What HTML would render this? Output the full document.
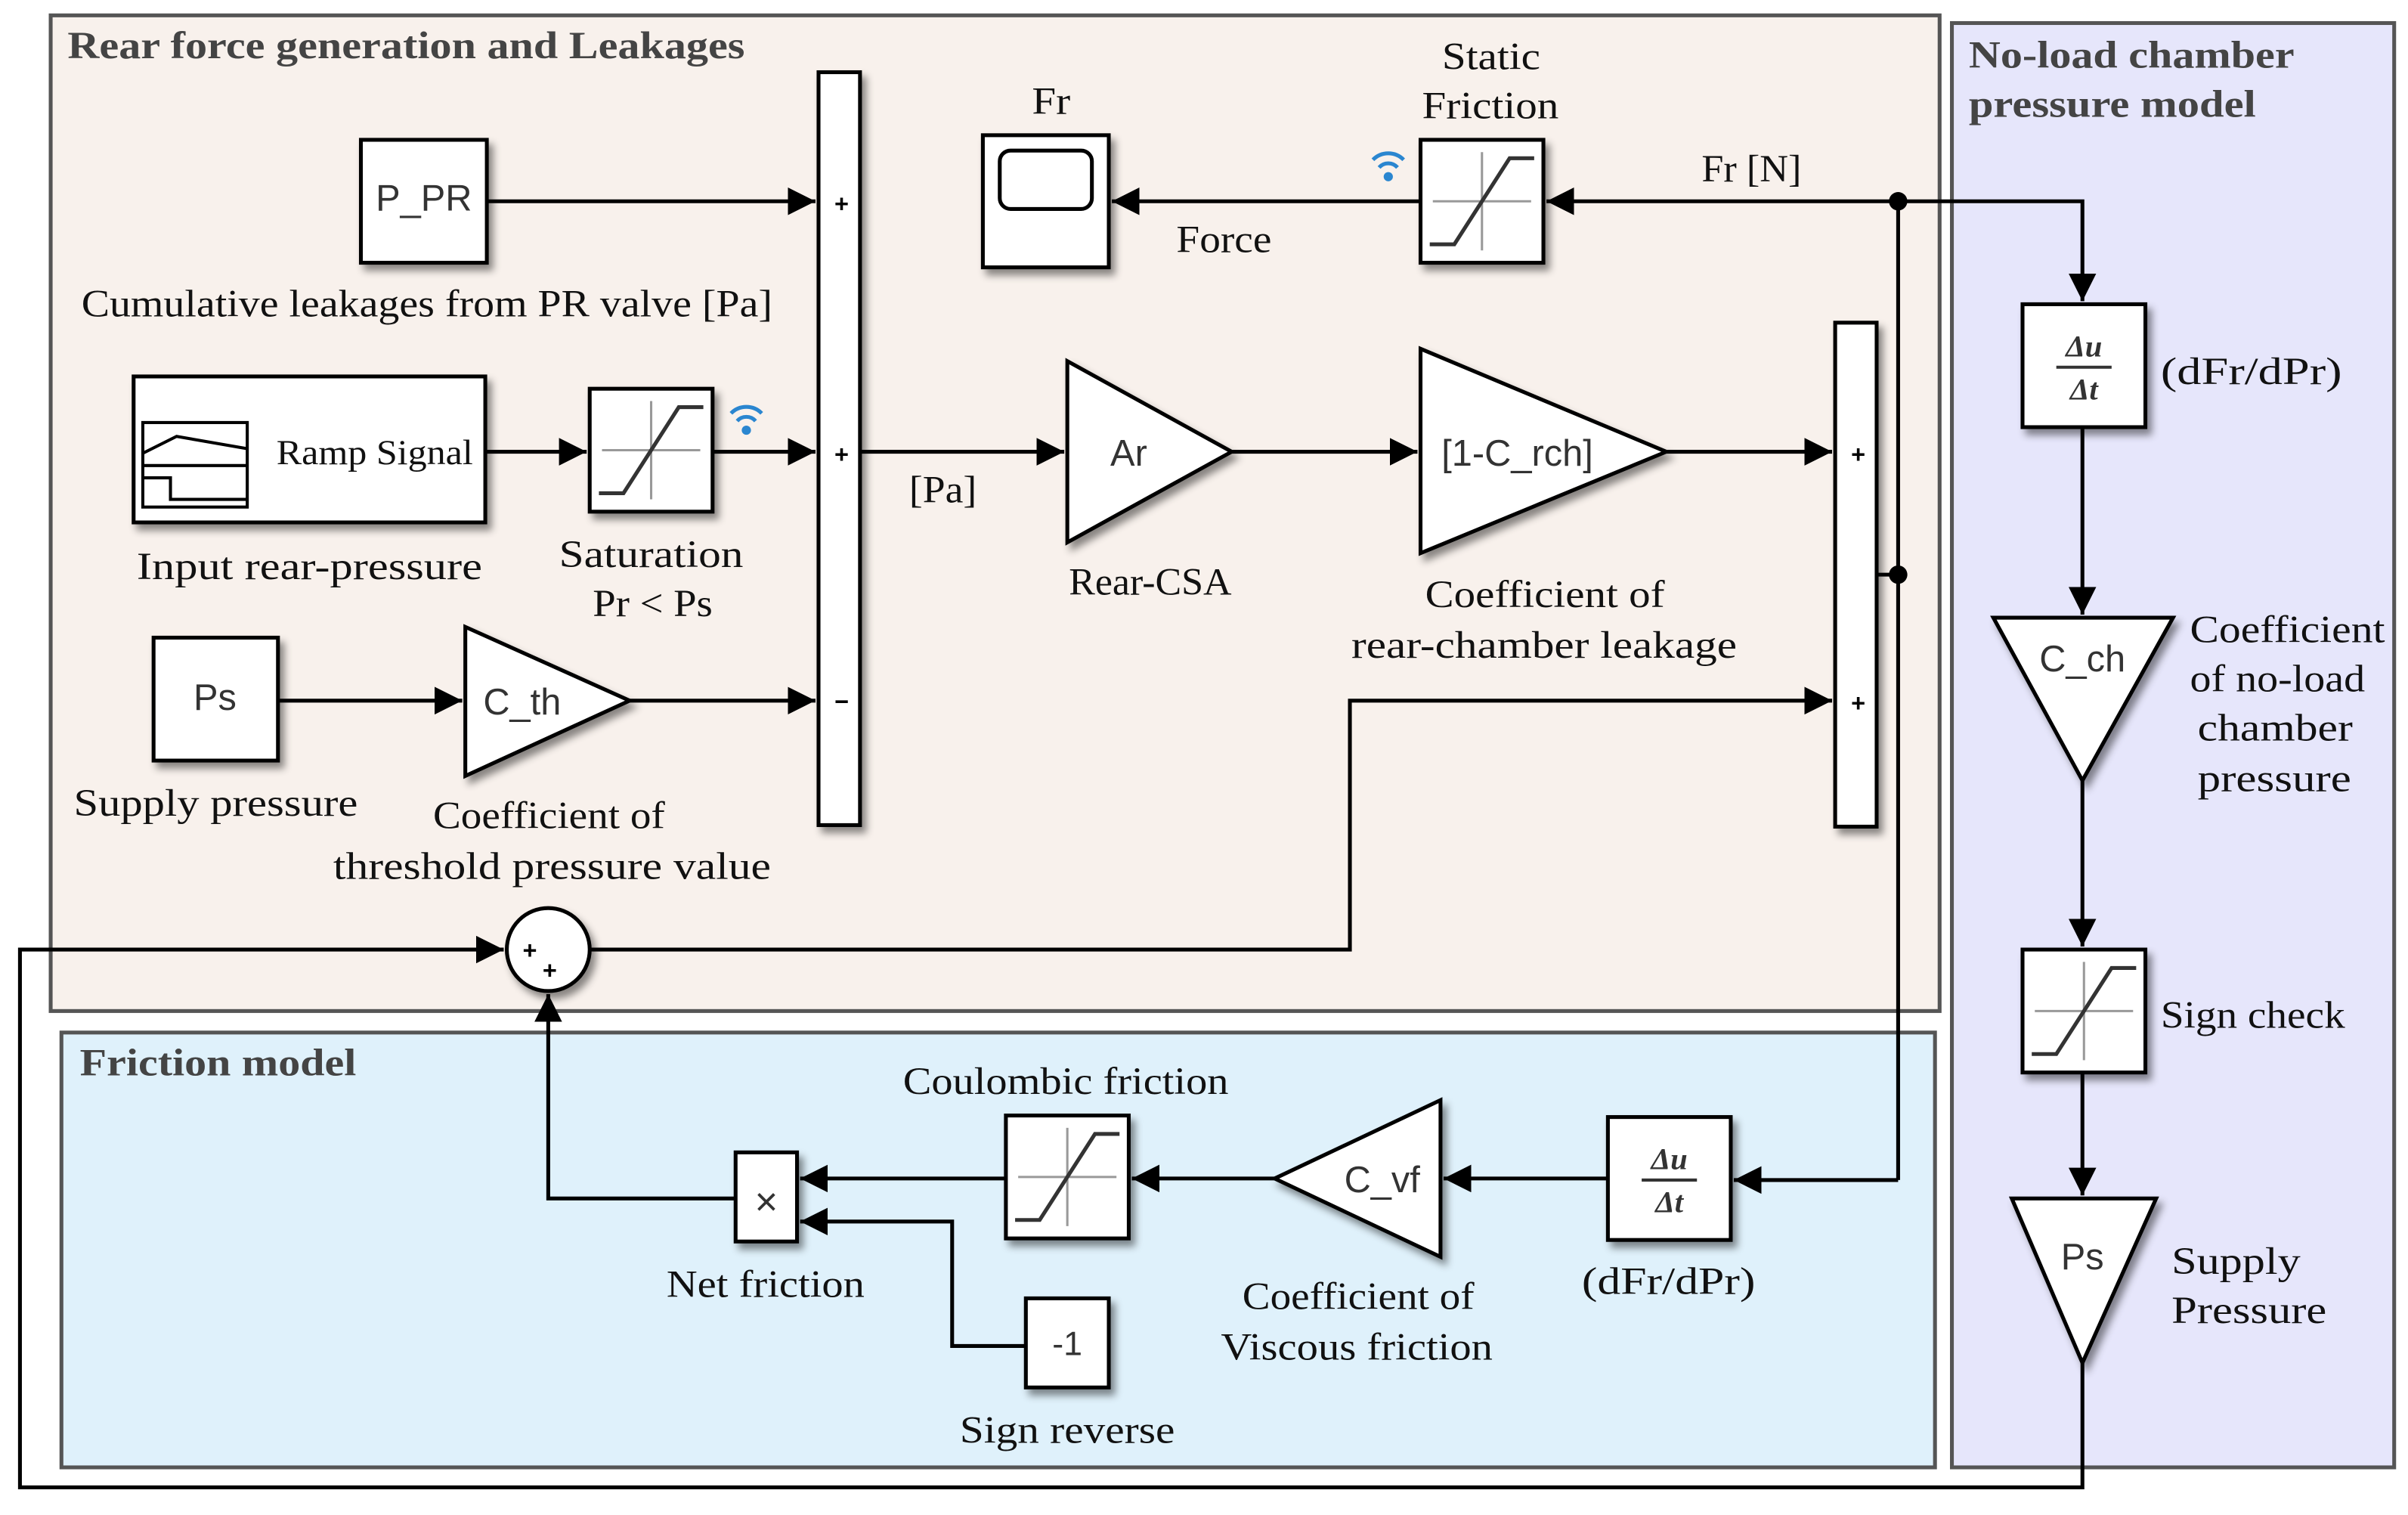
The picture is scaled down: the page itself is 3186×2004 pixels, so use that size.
<!DOCTYPE html>
<html><head><meta charset="utf-8"><style>html,body{margin:0;padding:0;background:#fff}svg{display:block}</style></head><body>
<svg width="3186" height="2004" viewBox="0 0 1568 986" preserveAspectRatio="none" xmlns="http://www.w3.org/2000/svg">
<defs>
<marker id="a" markerUnits="userSpaceOnUse" markerWidth="20" markerHeight="20" refX="18" refY="9" orient="auto"><path d="M0,0 L18,9 L0,18 Z" fill="#000"/></marker>
<filter id="sh" x="-20%" y="-20%" width="150%" height="150%"><feDropShadow dx="3" dy="4" stdDeviation="2.5" flood-color="#000" flood-opacity="0.45"/></filter>
<g id="sat"><line x1="8" y1="40" x2="72" y2="40" stroke="#999" stroke-width="1.5"/><line x1="40" y1="8" x2="40" y2="72" stroke="#999" stroke-width="1.5"/><polyline points="6,68 22,68 58,12 74,12" fill="none" stroke="#333" stroke-width="2.5"/></g>
<g id="der"><text x="40" y="34" font-family="Liberation Serif,serif" font-style="italic" font-weight="bold" font-size="20" text-anchor="middle" fill="#333">Δu</text><line x1="22" y1="41" x2="58" y2="41" stroke="#333" stroke-width="2"/><text x="40" y="62" font-family="Liberation Serif,serif" font-style="italic" font-weight="bold" font-size="20" text-anchor="middle" fill="#333">Δt</text></g>
<g id="wifi" fill="none" stroke="#2a86d0" stroke-width="2.5"><path d="M-10,-6 A14,14 0 0 1 10,-6"/><path d="M-6,-1 A8,8 0 0 1 6,-1"/><circle cx="0" cy="5" r="3" fill="#2a86d0" stroke="none"/></g>
</defs>
<rect width="1568" height="986" fill="#fff"/>
<rect x="33" y="10" width="1230" height="648" fill="#f8f1ec" stroke="#555" stroke-width="2.5"/>
<rect x="1271" y="15" width="288" height="940" fill="#e6e6fb" stroke="#555" stroke-width="2.5"/>
<rect x="40" y="672" width="1220" height="283" fill="#dff1fb" stroke="#555" stroke-width="2.5"/>
<g font-family="Liberation Serif,serif" font-weight="bold" font-size="25" fill="#444" lengthAdjust="spacingAndGlyphs">
<text x="44" y="38" textLength="441" lengthAdjust="spacingAndGlyphs">Rear force generation and Leakages</text>
<text x="1282" y="44" textLength="212" lengthAdjust="spacingAndGlyphs">No-load chamber</text>
<text x="1282" y="76" textLength="187" lengthAdjust="spacingAndGlyphs">pressure model</text>
<text x="52" y="700" textLength="180" lengthAdjust="spacingAndGlyphs">Friction model</text>
</g>
<g stroke="#000" stroke-width="2.5" fill="none">
<line x1="317" y1="131" x2="531" y2="131" marker-end="url(#a)"/>
<line x1="316" y1="294" x2="382" y2="294" marker-end="url(#a)"/>
<line x1="464" y1="294" x2="531" y2="294" marker-end="url(#a)"/>
<line x1="181" y1="456" x2="301" y2="456" marker-end="url(#a)"/>
<line x1="410" y1="456" x2="531" y2="456" marker-end="url(#a)"/>
<line x1="560" y1="294" x2="693" y2="294" marker-end="url(#a)"/>
<line x1="802" y1="294" x2="923" y2="294" marker-end="url(#a)"/>
<line x1="1085" y1="294" x2="1193" y2="294" marker-end="url(#a)"/>
<line x1="1222" y1="374" x2="1236" y2="374"/>
<line x1="1236" y1="131" x2="1236" y2="768"/>
<line x1="1236" y1="131" x2="1007" y2="131" marker-end="url(#a)"/>
<polyline points="1236,131 1356,131 1356,196" marker-end="url(#a)"/>
<line x1="925" y1="131" x2="724" y2="131" marker-end="url(#a)"/>
<polyline points="384,618 879,618 879,456 1193,456" marker-end="url(#a)"/>
<polyline points="1356,887 1356,968 13,968 13,618 328,618" marker-end="url(#a)"/>
<polyline points="479,780 357,780 357,647" marker-end="url(#a)"/>
<line x1="655" y1="767" x2="521" y2="767" marker-end="url(#a)"/>
<polyline points="668,876 620,876 620,795 521,795" marker-end="url(#a)"/>
<line x1="830" y1="767" x2="737" y2="767" marker-end="url(#a)"/>
<line x1="1047" y1="767" x2="940" y2="767" marker-end="url(#a)"/>
<line x1="1236" y1="768" x2="1129" y2="768" marker-end="url(#a)"/>
<line x1="1356" y1="278" x2="1356" y2="400" marker-end="url(#a)"/>
<line x1="1356" y1="508" x2="1356" y2="616" marker-end="url(#a)"/>
<line x1="1356" y1="698" x2="1356" y2="778" marker-end="url(#a)"/>
</g>
<circle cx="1236" cy="131" r="6" fill="#000"/>
<circle cx="1236" cy="374" r="6" fill="#000"/>
<g fill="#fff" stroke="#000" stroke-width="2.5" filter="url(#sh)">
<rect x="235" y="91" width="82" height="80"/>
<rect x="87" y="245" width="229" height="95"/>
<rect x="384" y="253" width="80" height="80"/>
<rect x="100" y="415" width="81" height="80"/>
<polygon points="303,408 303,505 410,456"/>
<rect x="533" y="47" width="27" height="490"/>
<polygon points="695,235 695,353 802,294"/>
<polygon points="925,227 925,360 1085,294"/>
<rect x="1195" y="210" width="27" height="328"/>
<rect x="925" y="91" width="80" height="80"/>
<rect x="640" y="88" width="82" height="86"/>
<circle cx="357" cy="618" r="27"/>
<rect x="479" y="750" width="40" height="58"/>
<rect x="655" y="726" width="80" height="80"/>
<rect x="668" y="845" width="54" height="58"/>
<polygon points="938,716 938,818 830,767"/>
<rect x="1047" y="727" width="80" height="80"/>
<rect x="1317" y="198" width="80" height="80"/>
<polygon points="1298,402 1415,402 1356,508"/>
<rect x="1317" y="618" width="80" height="80"/>
<polygon points="1310,780 1404,780 1356,887"/>
</g>
<rect x="93" y="275" width="68" height="55" fill="none" stroke="#000" stroke-width="2"/>
<line x1="93" y1="303" x2="161" y2="303" stroke="#000" stroke-width="2"/>
<polyline points="93,295 115,284 161,292" fill="none" stroke="#000" stroke-width="2"/>
<polyline points="93,311 111,311 111,325 161,325" fill="none" stroke="#000" stroke-width="2"/>
<rect x="651" y="98" width="60" height="38" rx="7" fill="none" stroke="#000" stroke-width="2.5"/>
<use href="#sat" x="384" y="253"/><use href="#sat" x="925" y="91"/><use href="#sat" x="655" y="726"/><use href="#sat" x="1317" y="618"/>
<use href="#der" x="1047" y="727"/><use href="#der" x="1317" y="198"/>
<use href="#wifi" x="486" y="275"/><use href="#wifi" x="904" y="110"/>
<g font-family="Liberation Sans,sans-serif" font-size="24" fill="#333" text-anchor="middle">
<text x="276" y="137">P_PR</text>
<text x="140" y="462">Ps</text>
<text x="340" y="465">C_th</text>
<text x="735" y="303">Ar</text>
<text x="988" y="303">[1-C_rch]</text>
<text x="900" y="776">C_vf</text>
<text x="1356" y="437">C_ch</text>
<text x="1356" y="826">Ps</text>
<text x="695" y="882" font-size="22">-1</text>
<text x="499" y="791" font-size="26">×</text>
</g>
<g font-family="Liberation Sans,sans-serif" font-weight="bold" font-size="16" fill="#000" text-anchor="middle">
<text x="548" y="138">+</text><text x="548" y="301">+</text><text x="548" y="462">−</text>
<text x="1210" y="301">+</text><text x="1210" y="463">+</text>
<text x="345" y="624">+</text><text x="358" y="637">+</text>
</g>
<g font-family="Liberation Serif,serif" font-size="25" fill="#111">
<text x="53" y="206" textLength="450" lengthAdjust="spacingAndGlyphs">Cumulative leakages from PR valve [Pa]</text>
<text x="180" y="302" font-size="23" textLength="128" lengthAdjust="spacingAndGlyphs">Ramp Signal</text>
<text x="89" y="377" textLength="225" lengthAdjust="spacingAndGlyphs">Input rear-pressure</text>
<text x="364" y="369" textLength="120" lengthAdjust="spacingAndGlyphs">Saturation</text>
<text x="386" y="401" textLength="78" lengthAdjust="spacingAndGlyphs">Pr &lt; Ps</text>
<text x="48" y="531" textLength="185" lengthAdjust="spacingAndGlyphs">Supply pressure</text>
<text x="282" y="539" textLength="151" lengthAdjust="spacingAndGlyphs">Coefficient of</text>
<text x="217" y="572" textLength="285" lengthAdjust="spacingAndGlyphs">threshold pressure value</text>
<text x="592" y="327" textLength="44" lengthAdjust="spacingAndGlyphs">[Pa]</text>
<text x="696" y="387" textLength="106" lengthAdjust="spacingAndGlyphs">Rear-CSA</text>
<text x="928" y="395" textLength="156" lengthAdjust="spacingAndGlyphs">Coefficient of</text>
<text x="880" y="428" textLength="251" lengthAdjust="spacingAndGlyphs">rear-chamber leakage</text>
<text x="939" y="45" textLength="64" lengthAdjust="spacingAndGlyphs">Static</text>
<text x="926" y="77" textLength="89" lengthAdjust="spacingAndGlyphs">Friction</text>
<text x="672" y="74" textLength="25" lengthAdjust="spacingAndGlyphs">Fr</text>
<text x="766" y="164" textLength="62" lengthAdjust="spacingAndGlyphs">Force</text>
<text x="1108" y="118" textLength="65" lengthAdjust="spacingAndGlyphs">Fr [N]</text>
<text x="588" y="712" textLength="212" lengthAdjust="spacingAndGlyphs">Coulombic friction</text>
<text x="434" y="844" textLength="129" lengthAdjust="spacingAndGlyphs">Net friction</text>
<text x="625" y="939" textLength="140" lengthAdjust="spacingAndGlyphs">Sign reverse</text>
<text x="809" y="852" textLength="151" lengthAdjust="spacingAndGlyphs">Coefficient of</text>
<text x="795" y="885" textLength="177" lengthAdjust="spacingAndGlyphs">Viscous friction</text>
<text x="1030" y="842" textLength="113" lengthAdjust="spacingAndGlyphs">(dFr/dPr)</text>
<text x="1407" y="250" textLength="118" lengthAdjust="spacingAndGlyphs">(dFr/dPr)</text>
<text x="1426" y="418" textLength="127" lengthAdjust="spacingAndGlyphs">Coefficient</text>
<text x="1426" y="450" textLength="114" lengthAdjust="spacingAndGlyphs">of no-load</text>
<text x="1431" y="482" textLength="101" lengthAdjust="spacingAndGlyphs">chamber</text>
<text x="1431" y="515" textLength="100" lengthAdjust="spacingAndGlyphs">pressure</text>
<text x="1407" y="669" textLength="120" lengthAdjust="spacingAndGlyphs">Sign check</text>
<text x="1414" y="829" textLength="84" lengthAdjust="spacingAndGlyphs">Supply</text>
<text x="1414" y="861" textLength="101" lengthAdjust="spacingAndGlyphs">Pressure</text>
</g>
</svg>
</body></html>
